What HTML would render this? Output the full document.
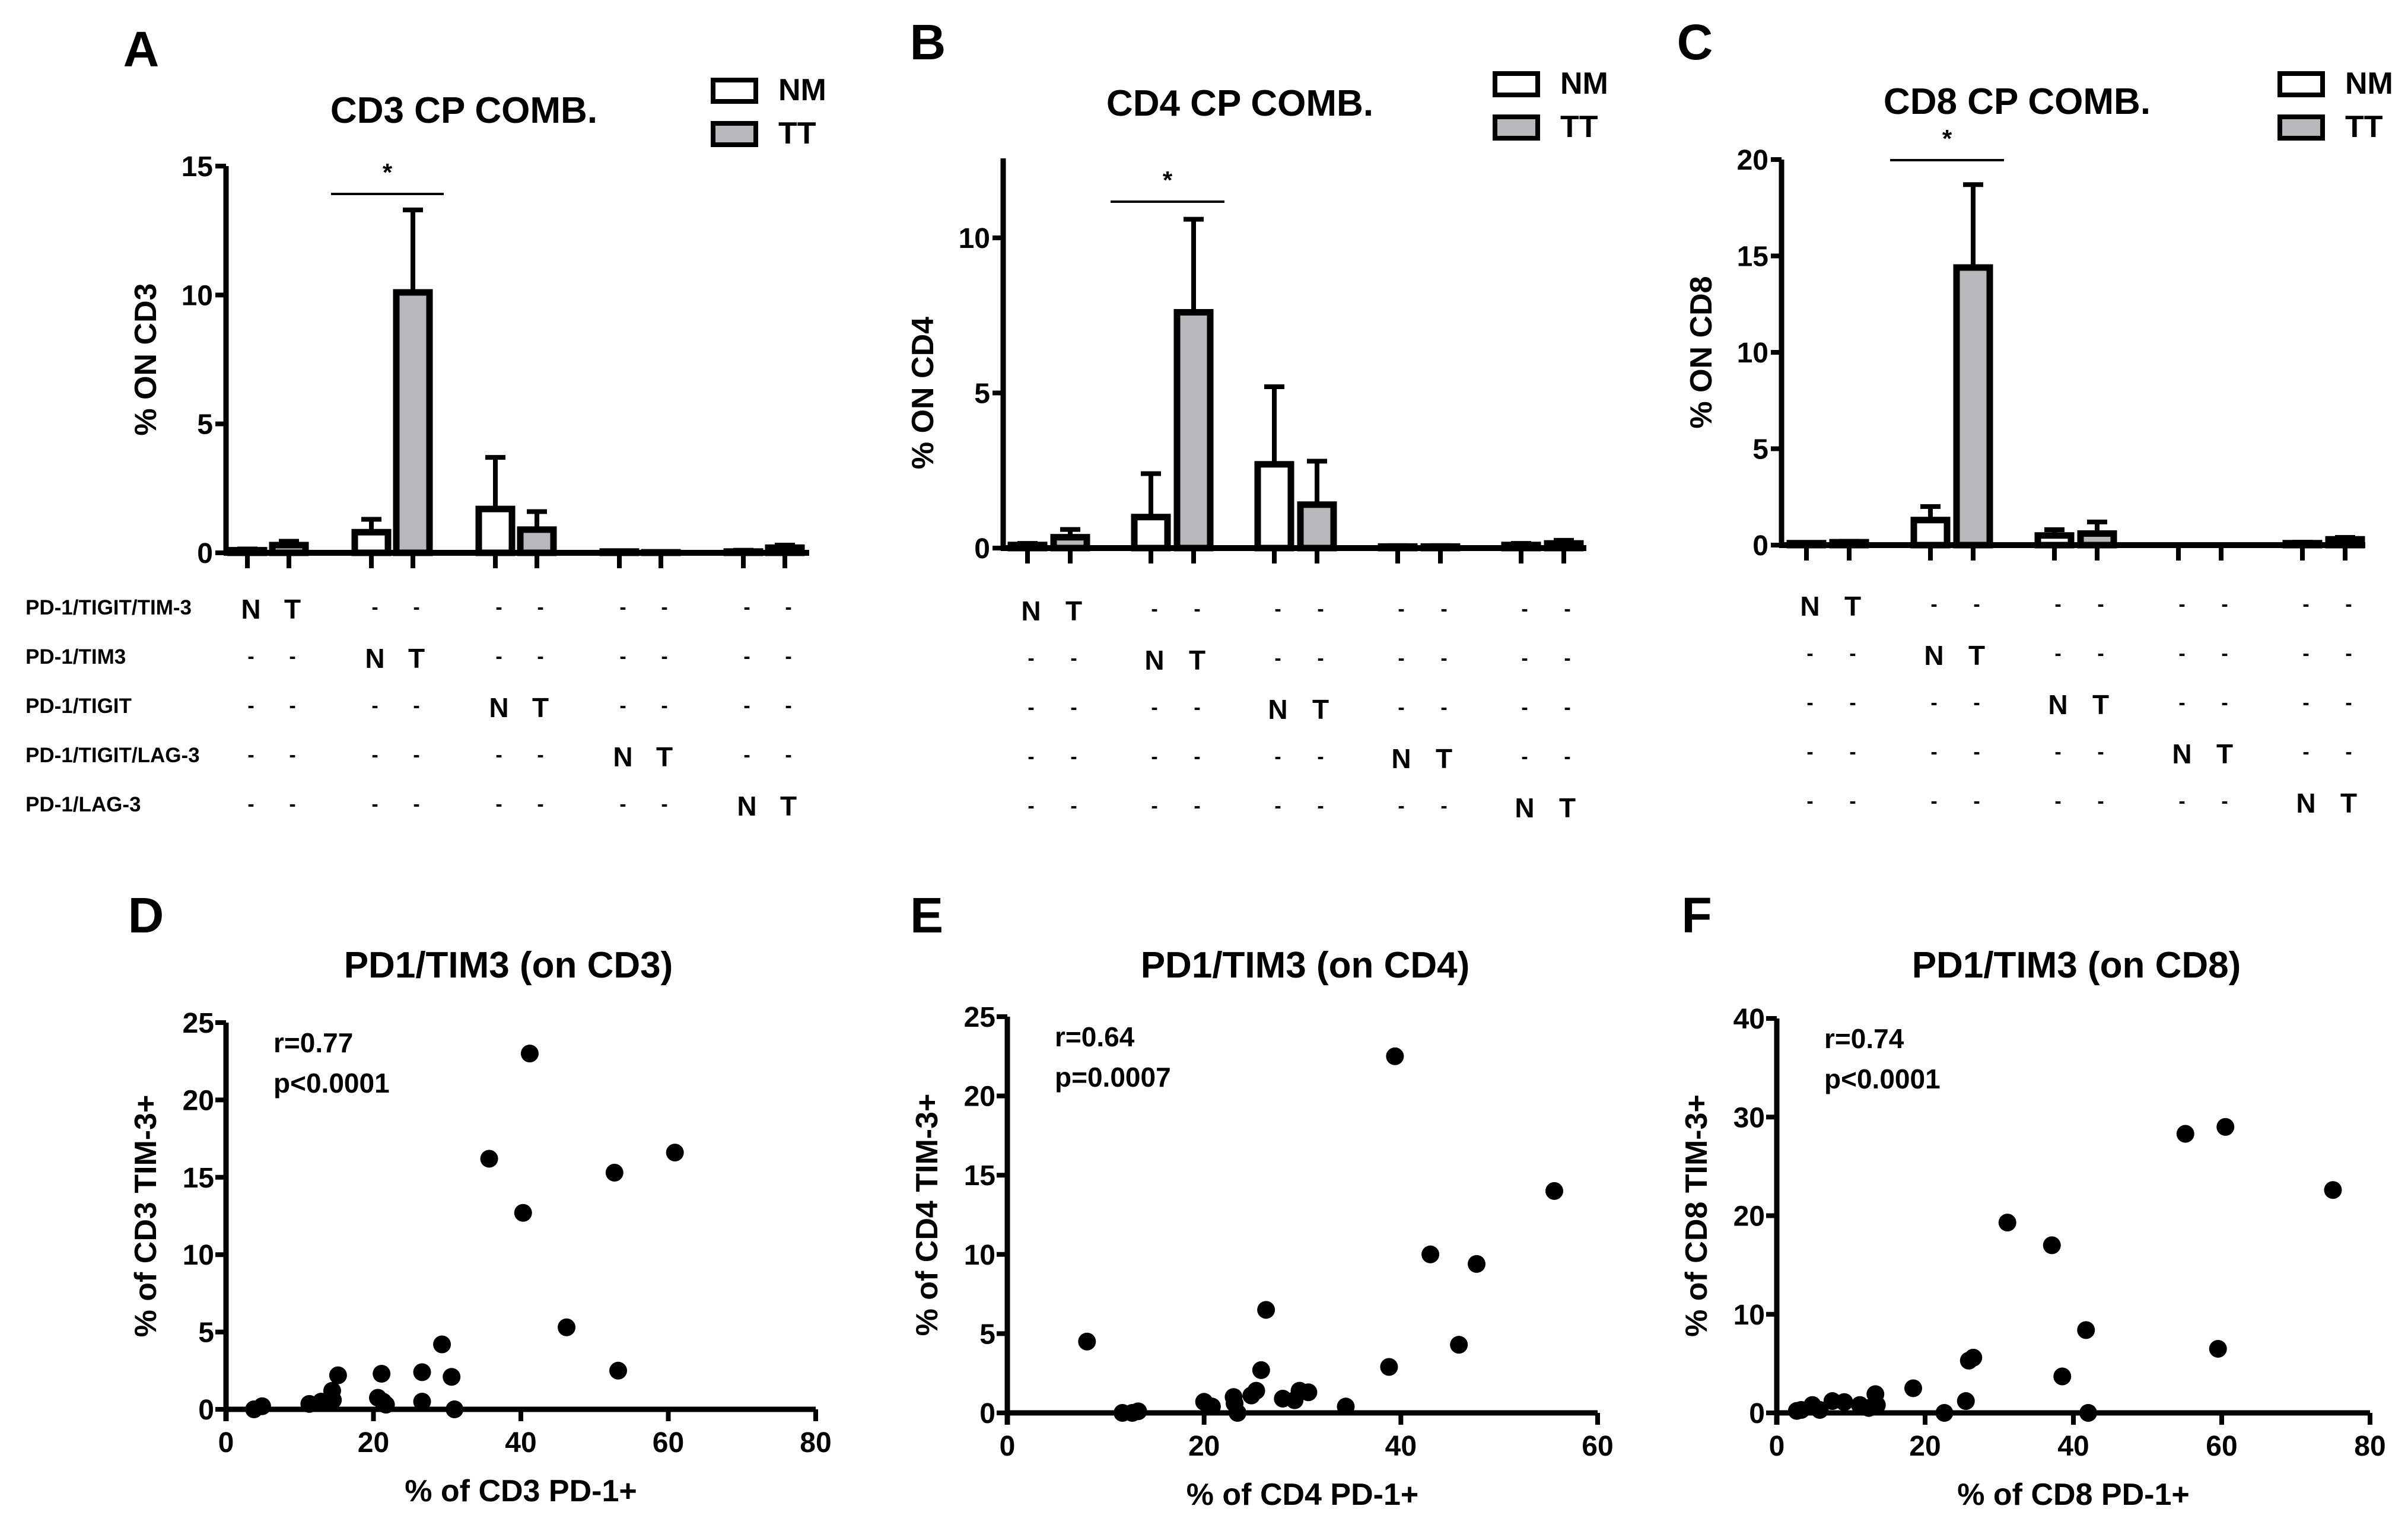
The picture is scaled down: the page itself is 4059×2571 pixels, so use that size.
<!DOCTYPE html>
<html><head><meta charset="utf-8">
<style>
html,body{margin:0;padding:0;background:#fff;}
svg{display:block;font-family:"Liberation Sans",sans-serif;font-weight:bold;}
</style></head>
<body>
<svg id="fig" width="4059" height="2571" viewBox="0 0 4059 2571" xmlns="http://www.w3.org/2000/svg"></svg>
<script>
// ---- Bar chart data ----
const groups = ["PD-1/TIGIT/TIM-3","PD-1/TIM3","PD-1/TIGIT","PD-1/TIGIT/LAG-3","PD-1/LAG-3"];
const cd3NM = [0.1, 0.8, 1.7, 0.05, 0.05];
const cd3NMerr = [0.15, 1.3, 3.7, 0.08, 0.1];
const cd3TT = [0.3, 10.1, 0.9, 0.02, 0.2];
const cd3TTerr = [0.45, 13.3, 1.6, 0.03, 0.3];
const cd4NM = [0.1, 1.0, 2.7, 0.05, 0.1];
const cd4NMerr = [0.15, 2.4, 5.2, 0.08, 0.15];
const cd4TT = [0.35, 7.6, 1.4, 0.05, 0.15];
const cd4TTerr = [0.6, 10.6, 2.8, 0.08, 0.25];
const cd8NM = [0.1, 1.3, 0.5, 0.0, 0.1];
const cd8NMerr = [0.12, 2.0, 0.8, 0.0, 0.15];
const cd8TT = [0.15, 14.4, 0.6, 0.0, 0.3];
const cd8TTerr = [0.2, 18.7, 1.2, 0.0, 0.4];
const cd3Ticks = [0,5,10,15];
const cd4Ticks = [0,5,10];
const cd8Ticks = [0,5,10,15,20];
// ---- Scatter data ----
const dX = [41.2,35.7,40.3,52.7,60.9,46.2,53.2,29.3,15.2,21.1,26.6,30.6,14.4,26.6,31.0,3.8,4.9,11.3,12.9,14.5,20.6,21.3,21.7];
const dY = [23.0,16.2,12.7,15.3,16.6,5.3,2.5,4.2,2.2,2.3,2.4,2.1,1.2,0.5,0.0,0.0,0.2,0.35,0.5,0.6,0.75,0.5,0.3];
const eX = [8.1,11.7,12.7,13.3,20.0,20.8,23.1,23.4,24.8,25.3,25.8,26.3,28.0,29.2,29.7,30.6,34.4,38.8,39.4,43.0,45.9,47.7,55.6,23.0];
const eY = [4.5,0,0,0.1,0.7,0.4,0.6,0,1.1,1.4,2.7,6.5,0.9,0.8,1.4,1.3,0.4,2.9,22.5,10,4.3,9.4,14.0,1.0];
const fX = [2.7,3.3,4.8,5.8,7.5,9.1,11.2,12.4,13.3,13.5,18.4,22.6,25.5,25.9,26.5,31.1,37.1,38.5,41.7,42.0,55.1,60.5,59.5,75.0];
const fY = [0.2,0.3,0.8,0.3,1.2,1.1,0.8,0.5,1.9,0.8,2.5,0,1.2,5.3,5.6,19.3,17.0,3.7,8.4,0,28.3,29.0,6.5,22.6];
const dXTicks=[0,20,40,60,80], dYTicks=[0,5,10,15,20,25];
const eXTicks=[0,20,40,60], eYTicks=[0,5,10,15,20,25];
const fXTicks=[0,20,40,60,80], fYTicks=[0,10,20,30,40];

const NS="http://www.w3.org/2000/svg";
const svg=document.getElementById('fig');
function mk(tag,attrs,parent,text){
  const e=document.createElementNS(NS,tag);
  for(const k in attrs) e.setAttribute(k,attrs[k]);
  if(text!==undefined) e.textContent=text;
  (parent||svg).appendChild(e); return e;
}
function txt(x,y,s,size,anchor,parent,name,extra){
  const t=mk('text',Object.assign({x:x,y:y,'font-size':size,'text-anchor':anchor||'middle',fill:'#000'},extra||{}),parent,s);
  
  
  return t;
}

function barChart(cfg){
  const g=mk('g',{});
  
  
  const ys=v=>cfg.y0-(v/cfg.vRef)*(cfg.y0-cfg.yRef);
  const cx=(gi,s)=>cfg.first+gi*cfg.gap+s*cfg.pair;
  txt(cfg.letterX,cfg.letterY,cfg.letter,84,'middle',g,'panel-letter');
  txt(cfg.titleX,cfg.titleY,cfg.title,62,'middle',g,'chart-title');
  const lg=mk('g',{},g);
  
  
  const r1=mk('rect',{x:cfg.legX,y:cfg.legY,width:72,height:36,fill:'#fff',stroke:'#000','stroke-width':8},lg);
  
  
  txt(cfg.legX+110,cfg.legY+34,'NM',52,'start',lg,'legend-label-nm');
  const r2=mk('rect',{x:cfg.legX,y:cfg.legY+73,width:72,height:36,fill:'#b8b8bc',stroke:'#000','stroke-width':8},lg);
  
  
  txt(cfg.legX+110,cfg.legY+107,'TT',52,'start',lg,'legend-label-tt');
  const top=ys(cfg.ticks[cfg.ticks.length-1]);
  const ax=mk('line',{x1:cfg.x0,y1:cfg.axTop||top,x2:cfg.x0,y2:cfg.y0+3,stroke:'#000','stroke-width':9},g);
  
  
  cfg.ticks.forEach(t=>{
    const y=ys(t);
    const tk=mk('line',{x1:cfg.x0-18,y1:y,x2:cfg.x0,y2:y,stroke:'#000','stroke-width':8},g);
    
    
    txt(cfg.x0-22,y+17,String(t),48,'end',g,'y-tick-label');
  });
  txt(0,0,cfg.ylabel,52,'middle',g,'y-axis-title',{transform:`translate(${cfg.x0-118},${(cfg.y0+top)/2}) rotate(-90)`});
  const sets=[[cfg.nm,cfg.nmErr,'#fff'],[cfg.tt,cfg.ttErr,'#b8b8bc']];
  for(let gi=0;gi<groups.length;gi++){
    for(let s=0;s<2;s++){
      const v=sets[s][0][gi], e=sets[s][1][gi], x=cx(gi,s);
      const bw=56;
      if(e>v){
        const el=mk('line',{x1:x,y1:ys(v),x2:x,y2:ys(e),stroke:'#000','stroke-width':8},g);
        
        
        const cap=mk('line',{x1:x-17,y1:ys(e),x2:x+17,y2:ys(e),stroke:'#000','stroke-width':8},g);
        
        
      }
      const h=Math.max(cfg.y0-ys(v),0);
      const b=mk('rect',{x:x-bw/2,y:cfg.y0-h,width:bw,height:h,fill:sets[s][2],stroke:'#000','stroke-width':11},g);
      
      
      const xt=mk('line',{x1:x,y1:cfg.y0,x2:x,y2:cfg.y0+26,stroke:'#000','stroke-width':8},g);
      
      
    }
  }
  const xa=mk('line',{x1:cfg.x0-4,y1:cfg.y0,x2:cfg.xEnd,y2:cfg.y0,stroke:'#000','stroke-width':10},g);
  
  
  const sl=mk('line',{x1:cx(1,0)-68,y1:cfg.sigY,x2:cx(1,1)+52,y2:cfg.sigY,stroke:'#000','stroke-width':4},g);
  
  
  txt((cx(1,0)+cx(1,1))/2-8,cfg.sigY-22,'*',42,'middle',g,'significance-star');
  for(let r=0;r<groups.length;r++){
    const y=cfg.rowY+r*cfg.rowGap;
    if(cfg.rowLabels) txt(43,y+11,groups[r],35,'start',g,'row-label');
    for(let gi=0;gi<groups.length;gi++){
      for(let s=0;s<2;s++){
        const on=gi===r;
        txt(cx(gi,s)+6,y+(on?18:10),on?(s?'T':'N'):'-',on?46:34,'middle',g,on?'combo-marker':'combo-dash');
      }
    }
  }
}

function scatter(cfg){
  const g=mk('g',{});
  
  
  const xs=v=>cfg.x0+v/cfg.xMax*(cfg.x1-cfg.x0);
  const ys=v=>cfg.y0-v/cfg.yMax*(cfg.y0-cfg.y1);
  txt(cfg.letterX,cfg.letterY,cfg.letter,84,'middle',g,'panel-letter');
  txt(cfg.titleX,cfg.titleY,cfg.title,62,'middle',g,'chart-title');
  const ya=mk('line',{x1:cfg.x0,y1:cfg.y1,x2:cfg.x0,y2:cfg.y0+20,stroke:'#000','stroke-width':9},g);
  
  
  const xa=mk('line',{x1:cfg.x0,y1:cfg.y0,x2:cfg.x1,y2:cfg.y0,stroke:'#000','stroke-width':9},g);
  
  
  cfg.yTicks.forEach(t=>{
    const y=ys(t);
    const tk=mk('line',{x1:cfg.x0-18,y1:y,x2:cfg.x0,y2:y,stroke:'#000','stroke-width':8},g);
    
    
    txt(cfg.x0-20,y+17,String(t),48,'end',g,'y-tick-label');
  });
  cfg.xTicks.forEach(t=>{
    const x=xs(t);
    const tk=mk('line',{x1:x,y1:cfg.y0,x2:x,y2:cfg.y0+20,stroke:'#000','stroke-width':8},g);
    
    
    txt(x,cfg.y0+72,String(t),48,'middle',g,'x-tick-label');
  });
  txt(0,0,cfg.ylabel,52,'middle',g,'y-axis-title',{transform:`translate(${cfg.x0-118},${(cfg.y0+cfg.y1)/2}) rotate(-90)`});
  txt((cfg.x0+cfg.x1)/2,cfg.y0+155,cfg.xlabel,52,'middle',g,'x-axis-title');
  txt(cfg.x0+80,cfg.y1+50,cfg.r,46,'start',g,'r-value');
  txt(cfg.x0+80,cfg.y1+118,cfg.p,46,'start',g,'p-value');
  for(let i=0;i<cfg.X.length;i++){
    const c=mk('circle',{cx:xs(cfg.X[i]),cy:ys(cfg.Y[i]),r:15,fill:'#000'},g);
    
    
  }
}

barChart({name:'panel-a-cd3-bar-chart',letter:'A',letterX:238,letterY:112,title:'CD3 CP COMB.',titleX:782,titleY:207,
  legX:1202,legY:135,x0:381,xEnd:1364,y0:932,vRef:15,yRef:280,ticks:cd3Ticks,ylabel:'% ON CD3',
  first:417,gap:209,pair:70,nm:cd3NM,nmErr:cd3NMerr,tt:cd3TT,ttErr:cd3TTerr,sigY:327,rowY:1025,rowGap:83,rowLabels:true});
barChart({name:'panel-b-cd4-bar-chart',letter:'B',letterX:1564,letterY:100,title:'CD4 CP COMB.',titleX:2090,titleY:195,
  legX:2520,legY:124,x0:1691,xEnd:2674,y0:924,vRef:10,yRef:401,axTop:267,ticks:cd4Ticks,ylabel:'% ON CD4',
  first:1732,gap:208,pair:72,nm:cd4NM,nmErr:cd4NMerr,tt:cd4TT,ttErr:cd4TTerr,sigY:340,rowY:1028,rowGap:83,rowLabels:false});
barChart({name:'panel-c-cd8-bar-chart',letter:'C',letterX:2857,letterY:100,title:'CD8 CP COMB.',titleX:3400,titleY:192,
  legX:3843,legY:124,x0:3003,xEnd:3987,y0:919,vRef:20,yRef:269,ticks:cd8Ticks,ylabel:'% ON CD8',
  first:3045,gap:209,pair:72,nm:cd8NM,nmErr:cd8NMerr,tt:cd8TT,ttErr:cd8TTerr,sigY:270,rowY:1020,rowGap:83,rowLabels:false});

scatter({name:'panel-d-cd3-scatter',letter:'D',letterX:246,letterY:1572,title:'PD1/TIM3 (on CD3)',titleX:857,titleY:1648,
  x0:381,x1:1375,y0:2376,y1:1724,xMax:80,yMax:25,xTicks:dXTicks,yTicks:dYTicks,X:dX,Y:dY,
  ylabel:'% of CD3 TIM-3+',xlabel:'% of CD3 PD-1+',r:'r=0.77',p:'p<0.0001'});
scatter({name:'panel-e-cd4-scatter',letter:'E',letterX:1562,letterY:1572,title:'PD1/TIM3 (on CD4)',titleX:2200,titleY:1648,
  x0:1698,x1:2693,y0:2382,y1:1714,xMax:60,yMax:25,xTicks:eXTicks,yTicks:eYTicks,X:eX,Y:eY,
  ylabel:'% of CD4 TIM-3+',xlabel:'% of CD4 PD-1+',r:'r=0.64',p:'p=0.0007'});
scatter({name:'panel-f-cd8-scatter',letter:'F',letterX:2860,letterY:1572,title:'PD1/TIM3 (on CD8)',titleX:3500,titleY:1648,
  x0:2995,x1:3995,y0:2382,y1:1717,xMax:80,yMax:40,xTicks:fXTicks,yTicks:fYTicks,X:fX,Y:fY,
  ylabel:'% of CD8 TIM-3+',xlabel:'% of CD8 PD-1+',r:'r=0.74',p:'p<0.0001'});
</script>
</body></html>
